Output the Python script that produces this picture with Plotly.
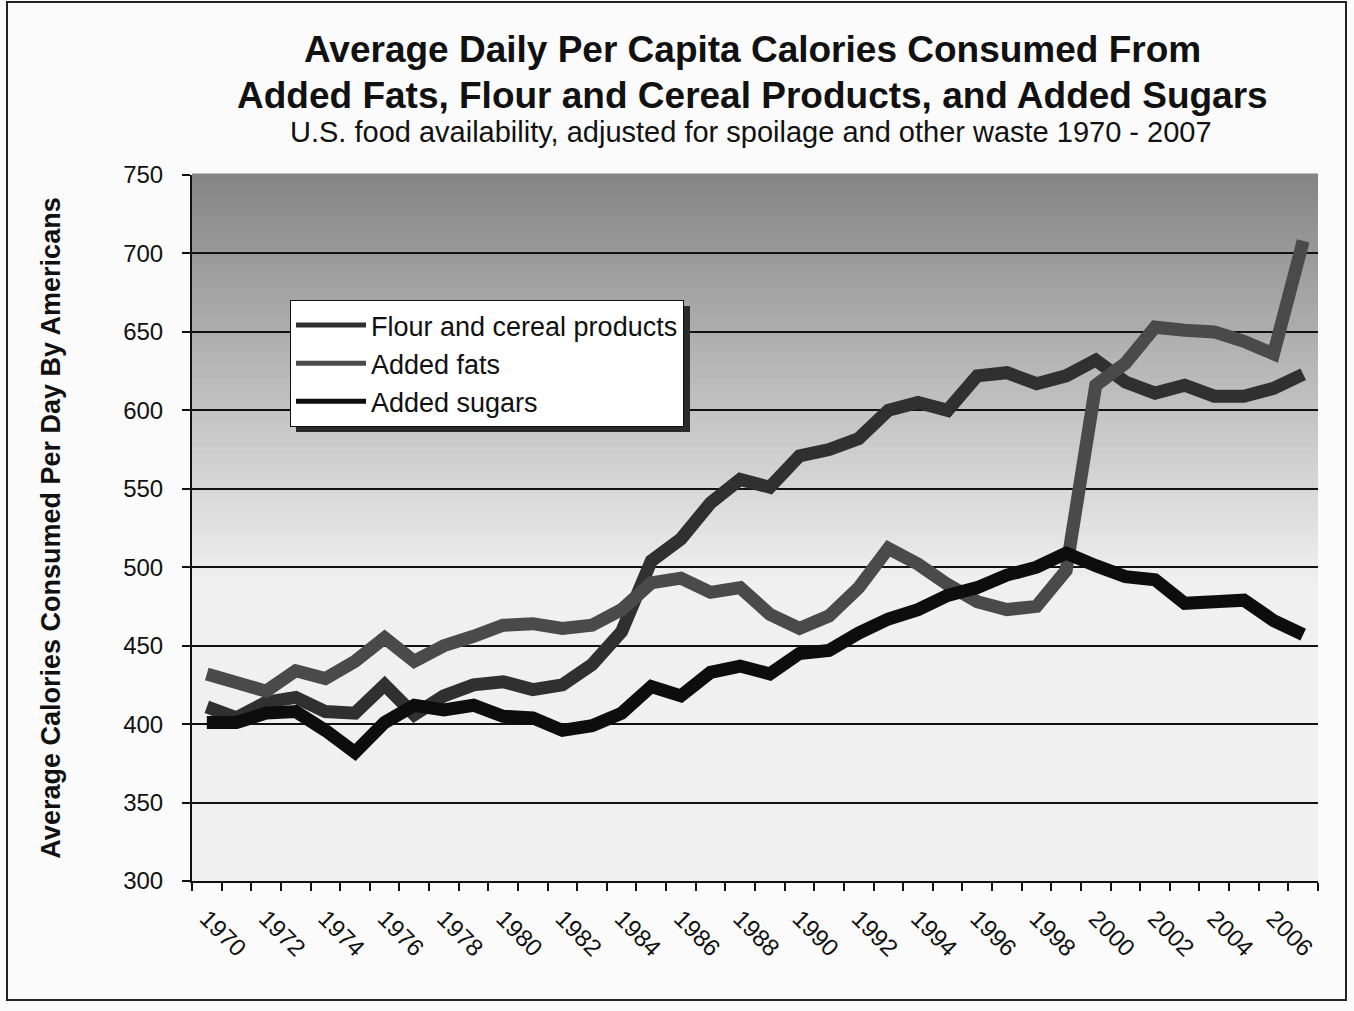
import plotly.graph_objects as go

# ---------------- data ----------------
years = list(range(1970, 2008))
flour = [411, 404, 414, 417, 408, 407, 425, 406, 418, 425,
         427, 422, 425, 438, 459, 504, 518, 541, 556, 551,
         571, 575, 582, 600, 605, 600, 622, 624, 617, 622,
         632, 618, 611, 616, 609, 609, 614, 623]
fats = [432, 427, 421, 434, 429, 440, 455, 440, 450, 456,
        463, 464, 461, 463, 473, 490, 493, 484, 487, 470,
        461, 469, 487, 512, 502, 489, 478, 473, 475, 498,
        616, 630, 653, 651, 650, 644, 636, 708]
sugars = [401, 401, 407, 408, 396, 382, 401, 412, 409, 412,
          405, 404, 396, 399, 407, 424, 418, 433, 437, 432,
          445, 447, 458, 467, 473, 482, 487, 495, 500, 509,
          501, 494, 492, 477, 478, 479, 466, 457]
series_names = ["Flour and cereal products", "Added fats", "Added sugars"]
x_tick_years = list(range(1970, 2007, 2))
x_tick_labels = [str(y) for y in x_tick_years]
y_ticks = [300, 350, 400, 450, 500, 550, 600, 650, 700, 750]

title1 = "Average Daily Per Capita Calories Consumed From"
title2 = "Added Fats, Flour and Cereal Products, and Added Sugars"
subtitle = "U.S. food availability, adjusted for spoilage and other waste 1970 - 2007"
ytitle = "Average Calories Consumed Per Day By Americans"

# ---------------- style ----------------
FONT = "Liberation Sans, Arial, sans-serif"
colors = ["#303030", "#4a4a4a", "#0d0d0d"]
W, H = 1354, 1011
ML, MR, MT, MB = 192, 36, 175, 130
PW, PH = W - ML - MR, H - MT - MB


def px_x(x):
    return (x - ML) / PW


def px_y(y):
    return (H - MB - y) / PH


fig = go.Figure()
for name, vals, col in zip(series_names, [flour, fats, sugars], colors):
    fig.add_trace(go.Scatter(x=years, y=vals, mode="lines", name=name,
                             line=dict(color=col, width=13),
                             showlegend=False, hoverinfo="x+y+name"))
# legend entries (thinner sample lines)
for i, (name, col) in enumerate(zip(series_names, colors)):
    fig.add_trace(go.Scatter(x=[None], y=[None], mode="lines", name=name,
                             legendgroup=f"g{i}",
                             line=dict(color=col, width=5)))

shapes = []
# vertical gradient background of plot area
top = (0x84, 0x84, 0x84)
bot = (0xf0, 0xf0, 0xf0)
y_end = 0.42
nb = 60
for i in range(nb):
    t = (i + 0.5) / nb
    c = tuple(int(round(top[k] + (bot[k] - top[k]) * t)) for k in range(3))
    y1 = 1 - (1 - y_end) * i / nb
    y0 = 1 - (1 - y_end) * (i + 1) / nb
    shapes.append(dict(type="rect", xref="paper", yref="paper", x0=0, x1=1,
                       y0=y0, y1=y1 + 0.002, fillcolor="rgb(%d,%d,%d)" % c,
                       line=dict(width=0), layer="below"))
# legend drop shadow
shapes.append(dict(type="rect", xref="paper", yref="paper",
                   x0=px_x(296), x1=px_x(690), y0=px_y(432), y1=px_y(306),
                   fillcolor="#2a2a2a", line=dict(width=0), layer="above"))
# outer frame
shapes.append(dict(type="rect", xref="paper", yref="paper",
                   x0=px_x(7), x1=px_x(1346), y0=px_y(1000), y1=px_y(2),
                   line=dict(color="#222222", width=2), fillcolor="rgba(0,0,0,0)",
                   layer="below"))

annotations = [
    dict(text="<b>" + title1 + "</b>", x=px_x(752), y=px_y(50), xref="paper", yref="paper",
         showarrow=False, xanchor="center", yanchor="middle",
         font=dict(family=FONT, size=37, color="#111")),
    dict(text="<b>" + title2 + "</b>", x=px_x(752), y=px_y(95), xref="paper", yref="paper",
         showarrow=False, xanchor="center", yanchor="middle",
         font=dict(family=FONT, size=37, color="#111")),
    dict(text=subtitle, x=px_x(751), y=px_y(132), xref="paper", yref="paper",
         showarrow=False, xanchor="center", yanchor="middle",
         font=dict(family=FONT, size=29, color="#111")),
]

fig.update_layout(
    width=W, height=H,
    margin=dict(l=ML, r=MR, t=MT, b=MB, autoexpand=False),
    paper_bgcolor="#fbfbfb",
    plot_bgcolor="#f0f0f0",
    font=dict(family=FONT, color="#111"),
    shapes=shapes,
    annotations=annotations,
    legend=dict(x=px_x(290), y=px_y(300), xanchor="left", yanchor="top",
                bgcolor="white", bordercolor="#111", borderwidth=1,
                font=dict(family=FONT, size=27, color="#111"),
                itemwidth=70, tracegroupgap=4, traceorder="normal"),
    showlegend=True,
)

fig.update_xaxes(
    range=[1969.5, 2007.5], tickmode="array", tickvals=x_tick_years,
    ticktext=x_tick_labels, tickangle=45, ticks="", showgrid=False,
    tickfont=dict(family=FONT, size=24, color="#111"),
    showline=True, linecolor="#111", linewidth=2, zeroline=False,
    ticklabelstandoff=12,
    minor=dict(tick0=1969.5, dtick=1, ticks="outside", ticklen=8,
               tickwidth=2, tickcolor="#111", showgrid=False),
)
fig.update_yaxes(
    range=[300, 750], tickmode="array", tickvals=y_ticks,
    ticks="outside", ticklen=8, tickwidth=2, tickcolor="#111",
    tickfont=dict(family=FONT, size=24, color="#111"),
    showgrid=True, gridcolor="#111", gridwidth=2,
    showline=True, linecolor="#111", linewidth=2, zeroline=False,
    ticklabelstandoff=14,
    title=dict(text="<b>" + ytitle + "</b>", standoff=55,
               font=dict(family=FONT, size=27, color="#111")),
)

fig.write_html("out.html")
